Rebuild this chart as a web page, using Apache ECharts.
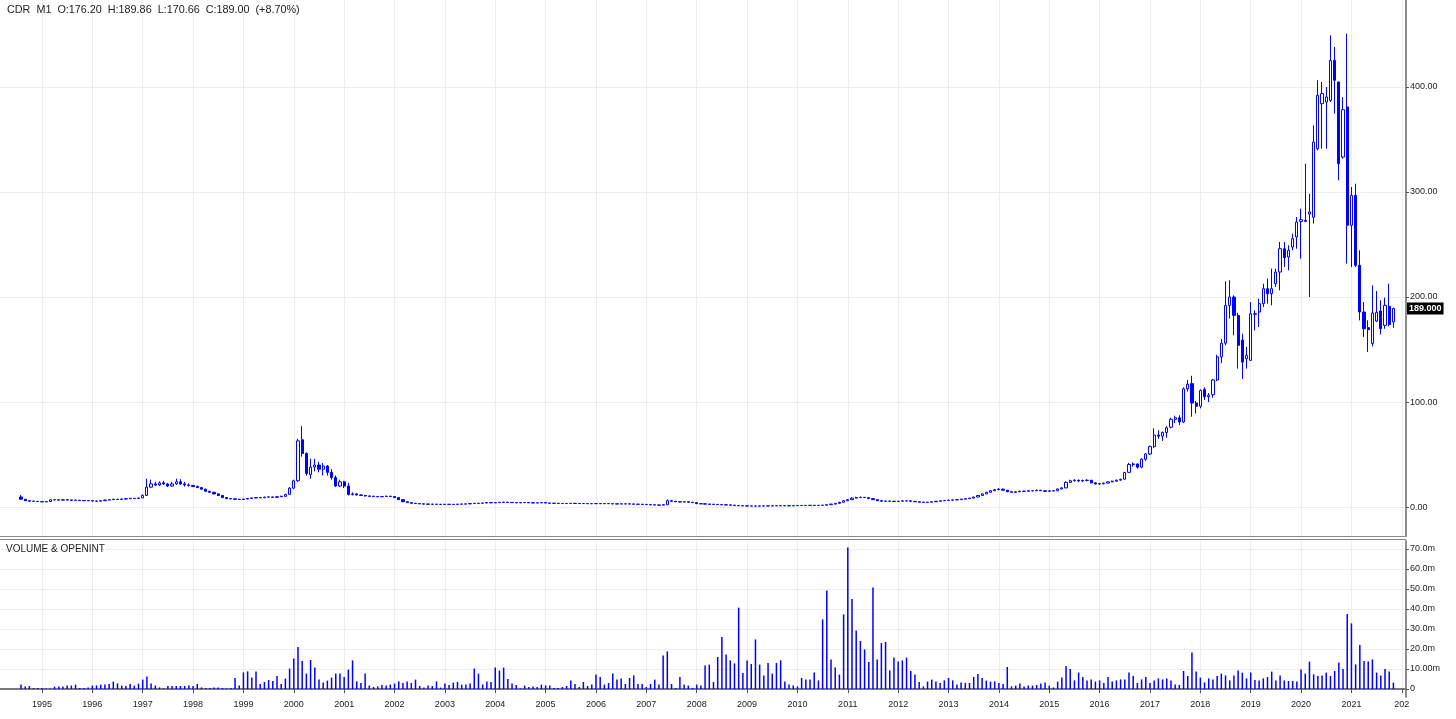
<!DOCTYPE html>
<html><head><meta charset="utf-8">
<script src="https://cdn.jsdelivr.net/npm/echarts@6/dist/echarts.min.js"></script>
<style>html,body{margin:0;padding:0;background:#fff}#c{width:1456px;height:719px}</style>
</head><body><div id="c"></div>
<script>
// Monthly bars, Aug 1994 .. Nov 2021 (one line per year)
const opens = [
 9.6, 7.4, 6.0, 5.6, 5.4,
 5.2, 4.9, 5.2, 6.8, 6.9, 6.6, 6.9, 6.7, 6.4, 6.5, 6.2, 6.0,
 6.1, 5.7, 5.6, 6.0, 6.6, 7.0, 7.4, 7.2, 7.6, 7.9, 8.3, 8.1,
 8.7, 11.0, 19.0, 22.0, 21.0, 23.0, 22.0, 20.0, 22.0, 24.0, 22.0, 21.0,
 20.5, 19.5, 18.5, 17.0, 15.0, 14.0, 12.5, 11.0, 9.0, 8.0, 7.8, 7.4,
 7.2, 7.6, 8.2, 8.6, 9.0, 8.8, 9.4, 9.6, 9.2, 9.8, 10.2, 12.0,
 18, 25, 64, 51, 31, 38, 40, 36, 39, 33, 28, 20,
 24, 20, 12, 12.5, 11.5, 11.0, 10.5, 10.2, 10.0, 9.8, 10.0, 10.3,
 10.0, 9.0, 7.0, 5.0, 4.2, 3.6, 3.3, 3.0, 2.8, 2.7, 2.6, 2.6,
 2.5, 2.6, 2.5, 2.5, 2.7, 2.8, 3.0, 3.3, 3.5, 3.6, 3.8, 4.2,
 4.0, 4.2, 4.5, 4.6, 4.4, 4.2, 4.0, 4.2, 4.3, 4.0, 3.9, 4.0,
 4.2, 3.8, 3.6, 3.5, 3.4, 3.3, 3.4, 3.5, 3.4, 3.3, 3.3, 3.2,
 3.2, 3.3, 3.2, 3.3, 3.2, 3.0, 2.9, 3.0, 3.0, 2.9, 2.7, 2.6,
 2.5, 2.3, 2.1, 1.9, 1.8, 2.2, 6.0, 5.5, 5.0, 4.8, 5.0, 4.5,
 4.2, 3.2, 3.0, 2.8, 2.6, 2.5, 2.3, 2.1, 2.0, 1.8, 1.4, 1.2,
 1.1, 1.0, 0.9, 0.9, 1.0, 1.1, 1.1, 1.2, 1.2, 1.3, 1.2, 1.2,
 1.3, 1.4, 1.5, 1.5, 1.6, 1.5, 1.6, 1.7, 2.2, 2.8, 3.5, 4.5,
 6.0, 7.0, 8.5, 9.0, 9.2, 9.0, 8.0, 7.0, 6.0, 5.5, 5.6, 5.5,
 5.3, 5.5, 5.8, 5.9, 5.4, 5.0, 4.6, 4.4, 4.6, 5.0, 5.5, 6.0,
 6.3, 6.5, 6.8, 7.0, 7.5, 8.0, 8.5, 9.5, 11.0, 12.5, 14.0, 15.5,
 16.5, 17.0, 16.0, 14.5, 14.0, 14.5, 15.0, 15.0, 15.5, 15.5, 16.0, 15.5,
 15.0, 15.3, 15.5, 17.2, 18.2, 23.5, 25.0, 25.5, 24.8, 25.3, 25.5, 23.0,
 22.0, 22.2, 22.8, 24.0, 24.6, 25.6, 26.5, 33.0, 40.5, 41.0, 38.0, 45.5,
 50.5, 57.5, 68.5, 67.5, 71.0, 76.0, 83.5, 85.0, 81.0, 112.5, 117.5, 99.0,
 96.0, 112.0, 105.0, 107.0, 121.0, 143.0, 156.0, 192.0, 200.0, 182.5, 159.0, 141.3,
 139.7, 184.0, 185.7, 193.7, 207.9, 203.2, 212.7, 223.8, 246.0, 238.1, 247.6, 257.2,
 272.0, 273.0, 279.0, 276.0, 341.3, 384.1, 385.7, 387.3, 425.4, 404.8, 333.3, 381.0,
 268.3, 296.8, 230.2, 185.7, 170.8, 155.6, 177.1, 186.7, 173.0, 191.1, 176.2
];
const highs = [
 11.4, 7.6, 6.2, 5.8, 5.6,
 5.4, 5.5, 7.4, 7.6, 7.2, 7.3, 7.2, 6.9, 6.9, 6.7, 6.4, 6.5,
 6.2, 6.0, 6.2, 6.9, 7.3, 7.8, 7.6, 7.9, 8.2, 8.7, 8.6, 9.0,
 12.0, 27.0, 26.0, 24.0, 24.5, 25.0, 23.0, 24.0, 27.0, 26.5, 24.0, 22.5,
 21.0, 20.5, 19.0, 17.5, 15.5, 14.5, 13.0, 11.5, 9.5, 8.5, 8.2, 7.8,
 7.9, 8.5, 9.0, 9.4, 9.3, 9.8, 10.0, 9.8, 10.2, 10.8, 12.5, 19.0,
 26, 65, 77, 52, 46, 46, 43, 42, 40, 36, 30, 26,
 25, 23, 14, 13, 12, 11.5, 11, 10.8, 10.5, 10.6, 10.8, 10.6,
 10.2, 9.2, 7.2, 5.2, 4.4, 3.8, 3.5, 3.2, 3.0, 2.9, 2.8, 2.8,
 2.8, 2.8, 2.7, 2.9, 3.0, 3.2, 3.5, 3.7, 3.8, 4.0, 4.4, 4.3,
 4.4, 4.7, 4.8, 4.7, 4.5, 4.3, 4.4, 4.5, 4.4, 4.1, 4.2, 4.4,
 4.3, 3.9, 3.7, 3.6, 3.5, 3.5, 3.6, 3.6, 3.5, 3.4, 3.4, 3.3,
 3.5, 3.4, 3.5, 3.4, 3.3, 3.1, 3.2, 3.2, 3.1, 3.0, 2.8, 2.7,
 2.6, 2.4, 2.2, 2.0, 2.4, 7.2, 6.3, 5.7, 5.2, 5.4, 5.1, 4.6,
 4.3, 3.4, 3.2, 3.0, 2.8, 2.6, 2.4, 2.3, 2.1, 1.9, 1.5, 1.3,
 1.2, 1.1, 1.0, 1.1, 1.2, 1.2, 1.3, 1.3, 1.4, 1.4, 1.3, 1.4,
 1.5, 1.6, 1.7, 1.7, 1.7, 1.7, 1.8, 2.4, 3.0, 3.8, 4.9, 6.5,
 7.5, 9.5, 9.8, 10.0, 9.6, 9.2, 8.2, 7.2, 6.3, 6.0, 5.9, 5.7,
 5.8, 6.1, 6.2, 6.0, 5.5, 5.1, 4.8, 4.8, 5.2, 5.7, 6.2, 6.5,
 6.8, 7.0, 7.3, 7.8, 8.3, 8.8, 9.8, 11.4, 12.9, 14.5, 16.0, 17.2,
 18.0, 17.5, 16.2, 14.8, 15.0, 15.5, 15.5, 16.0, 16.0, 16.5, 16.2, 15.8,
 16.0, 16.0, 17.8, 19.0, 24.5, 26.0, 26.5, 26.0, 26.0, 26.5, 25.8, 23.5,
 23.0, 23.2, 24.5, 25.2, 26.0, 27.0, 33.5, 42.0, 42.5, 41.5, 46.5, 51.5,
 58.5, 75.0, 73.0, 72.0, 77.0, 85.0, 87.0, 87.5, 114.0, 121.0, 125.0, 101.0,
 112.0, 114.0, 108.5, 122.0, 145.0, 160.0, 215.0, 216.0, 201.6, 185.0, 165.0, 152.4,
 195.2, 187.3, 198.4, 212.7, 217.5, 227.0, 227.0, 252.4, 252.4, 249.2, 260.3, 276.2,
 284.1, 327.0, 298.4, 363.5, 406.4, 404.8, 400.0, 449.2, 438.1, 404.8, 390.5, 450.8,
 304.8, 307.9, 244.5, 195.2, 177.8, 211.1, 205.7, 196.8, 199.4, 212.7, 189.86
];
const lows = [
 7.2, 5.8, 5.4, 5.2, 5.0,
 4.7, 4.8, 5.1, 6.4, 6.3, 6.4, 6.4, 6.1, 6.1, 5.9, 5.8, 5.8,
 5.5, 5.3, 5.4, 5.9, 6.4, 6.8, 7.0, 7.0, 7.4, 7.7, 7.8, 7.9,
 8.5, 10.5, 18.0, 20.0, 20.0, 21.0, 19.0, 19.5, 21.0, 21.0, 19.5, 19.5,
 19.0, 18.0, 16.5, 14.5, 13.5, 12.0, 10.5, 8.5, 7.5, 7.3, 7.0, 6.9,
 7.0, 7.4, 8.0, 8.4, 8.5, 8.6, 9.1, 9.0, 9.0, 9.5, 9.8, 11.5,
 17, 24, 48, 30, 27, 34, 33, 30, 30, 26, 19, 19,
 18, 11, 11, 11, 10.5, 10, 9.8, 9.5, 9.4, 9.5, 9.8, 9.6,
 8.8, 6.8, 4.8, 4.0, 3.4, 3.1, 2.9, 2.7, 2.5, 2.4, 2.4, 2.3,
 2.4, 2.3, 2.3, 2.4, 2.6, 2.7, 2.9, 3.2, 3.3, 3.5, 3.7, 3.8,
 3.9, 4.1, 4.3, 4.3, 4.1, 3.9, 3.9, 4.1, 3.9, 3.8, 3.8, 3.9,
 3.7, 3.5, 3.4, 3.3, 3.2, 3.2, 3.3, 3.3, 3.2, 3.1, 3.1, 3.0,
 3.1, 3.1, 3.1, 3.1, 2.9, 2.8, 2.8, 2.9, 2.8, 2.6, 2.5, 2.4,
 2.2, 2.0, 1.8, 1.7, 1.7, 2.1, 5.2, 4.8, 4.5, 4.6, 4.3, 4.0,
 3.1, 2.9, 2.7, 2.5, 2.4, 2.2, 2.0, 1.9, 1.6, 1.3, 1.1, 1.0,
 0.9, 0.8, 0.8, 0.8, 0.9, 1.0, 1.0, 1.1, 1.1, 1.1, 1.1, 1.1,
 1.2, 1.3, 1.4, 1.4, 1.4, 1.4, 1.5, 1.6, 2.1, 2.6, 3.3, 4.3,
 5.8, 6.8, 8.2, 8.6, 8.6, 7.8, 6.8, 5.8, 5.2, 5.2, 5.2, 5.0,
 5.1, 5.3, 5.6, 5.3, 4.9, 4.5, 4.3, 4.3, 4.5, 4.9, 5.4, 5.8,
 6.2, 6.3, 6.6, 6.9, 7.3, 7.9, 8.4, 9.3, 10.8, 12.2, 13.8, 15.2,
 16.2, 15.6, 14.2, 13.6, 13.8, 14.3, 14.6, 14.8, 15.0, 15.2, 15.2, 14.6,
 14.4, 14.8, 15.2, 16.8, 18.0, 23.0, 24.3, 23.8, 24.0, 24.5, 22.5, 21.5,
 21.0, 21.5, 22.5, 23.5, 24.0, 25.0, 26.2, 32.5, 38.5, 36.5, 37.0, 44.0,
 49.5, 56.0, 65.0, 63.0, 66.0, 75.0, 80.0, 78.0, 80.0, 110.0, 86.0, 89.0,
 94.0, 102.0, 100.0, 104.0, 120.0, 137.0, 154.0, 179.4, 163.5, 131.8, 122.0, 131.8,
 139.0, 168.3, 171.4, 190.5, 193.7, 192.1, 209.5, 206.3, 228.6, 225.4, 244.5, 246.0,
 236.5, 271.4, 200.0, 269.9, 339.7, 341.3, 341.3, 385.7, 374.6, 311.1, 331.8, 231.8,
 228.6, 228.6, 177.8, 161.9, 147.6, 153.0, 176.2, 164.4, 169.8, 172.1, 170.66
];
const closes = [
 7.4, 6.0, 5.6, 5.4, 5.2,
 4.9, 5.2, 6.8, 6.9, 6.6, 6.9, 6.7, 6.4, 6.5, 6.2, 6.0, 6.1,
 5.7, 5.6, 6.0, 6.6, 7.0, 7.4, 7.2, 7.6, 7.9, 8.3, 8.1, 8.6,
 11.0, 19.0, 22.0, 21.0, 23.0, 22.0, 20.0, 22.0, 24.0, 22.0, 21.0, 20.5,
 19.5, 18.5, 17.0, 15.0, 14.0, 12.5, 11.0, 9.0, 8.0, 7.8, 7.4, 7.2,
 7.6, 8.2, 8.6, 9.0, 8.8, 9.4, 9.6, 9.2, 9.8, 10.2, 12.0, 18.0,
 25, 63, 51, 32, 38, 40, 36, 39, 33, 28, 20, 24,
 20, 12, 12.5, 11.5, 11.0, 10.5, 10.2, 10.0, 9.8, 10.0, 10.3, 10.0,
 9.0, 7.0, 5.0, 4.2, 3.6, 3.3, 3.0, 2.8, 2.7, 2.6, 2.6, 2.5,
 2.6, 2.5, 2.5, 2.7, 2.8, 3.0, 3.3, 3.5, 3.6, 3.8, 4.2, 4.0,
 4.2, 4.5, 4.6, 4.4, 4.2, 4.0, 4.2, 4.3, 4.0, 3.9, 4.0, 4.2,
 3.8, 3.6, 3.5, 3.4, 3.3, 3.4, 3.5, 3.4, 3.3, 3.3, 3.2, 3.2,
 3.3, 3.2, 3.3, 3.2, 3.0, 2.9, 3.0, 3.0, 2.9, 2.7, 2.6, 2.5,
 2.3, 2.1, 1.9, 1.8, 2.2, 6.0, 5.5, 5.0, 4.8, 5.0, 4.5, 4.2,
 3.2, 3.0, 2.8, 2.6, 2.5, 2.3, 2.1, 2.0, 1.8, 1.4, 1.2, 1.1,
 1.0, 0.9, 0.9, 1.0, 1.1, 1.1, 1.2, 1.2, 1.3, 1.2, 1.2, 1.3,
 1.4, 1.5, 1.5, 1.6, 1.5, 1.6, 1.7, 2.2, 2.8, 3.5, 4.5, 6.0,
 7.0, 8.5, 9.0, 9.2, 9.0, 8.0, 7.0, 6.0, 5.5, 5.6, 5.5, 5.3,
 5.5, 5.8, 5.9, 5.4, 5.0, 4.6, 4.4, 4.6, 5.0, 5.5, 6.0, 6.3,
 6.5, 6.8, 7.0, 7.5, 8.0, 8.5, 9.5, 11.0, 12.5, 14.0, 15.5, 16.5,
 17.0, 16.0, 14.5, 14.0, 14.5, 15.0, 15.0, 15.5, 15.5, 16.0, 15.5, 15.0,
 15.3, 15.5, 17.2, 18.2, 23.5, 25.0, 25.5, 24.8, 25.3, 25.5, 23.0, 22.0,
 22.2, 22.8, 24.0, 24.6, 25.6, 26.3, 32.8, 40.5, 41.0, 38.0, 45.5, 50.5,
 57.5, 68.5, 67.5, 71.0, 75.5, 83.5, 85.0, 81.0, 112.5, 117.0, 99.0, 96.0,
 111.0, 105.0, 106.5, 121.0, 143.0, 156.0, 192.0, 200.0, 182.5, 154.0, 138.0, 144.4,
 184.1, 183.5, 193.7, 207.9, 203.2, 207.9, 223.8, 246.0, 237.5, 244.5, 255.6, 271.4,
 273.7, 272.0, 281.0, 347.6, 392.1, 393.7, 390.5, 425.4, 406.4, 327.0, 378.4, 268.3,
 296.8, 230.2, 185.7, 169.8, 168.9, 184.8, 185.4, 169.8, 192.1, 173.87, 189.0
];
// Volume in millions
const volumes = [
 2.3, 1.2, 1.5, 0.5, 0.5,
 0.5, 0.2, 0.2, 1.2, 1.2, 1.2, 1.7, 1.7, 2.2, 0.5, 0.5, 0.7,
 1.7, 1.8, 2.2, 2.3, 2.5, 3.7, 2.8, 1.7, 1.5, 2.5, 1.7, 2.7,
 4.7, 6.3, 2.8, 1.7, 0.8, 0.3, 1.5, 1.5, 1.5, 1.5, 1.5, 1.8,
 1.5, 2.5, 0.8, 0.5, 0.5, 0.7, 0.7, 0.5, 0.3, 0.5, 5.5, 1.7,
 8.3, 8.8, 5.7, 8.8, 2.5, 3.5, 4.5, 4.0, 6.5, 2.5, 5.2, 10.2,
 15.2, 21, 14, 7.7, 14.5, 10.7, 4.7, 3.2, 4.2, 5.7, 7.7, 7.7,
 6.0, 9.7, 14.3, 3.8, 3.0, 7.7, 1.7, 1.0, 1.3, 2.0, 1.7, 2.2,
 2.7, 3.8, 3.0, 3.8, 3.0, 4.7, 1.5, 0.7, 1.7, 1.5, 3.8, 0.7,
 2.7, 2.0, 3.2, 3.5, 2.2, 2.2, 2.7, 10.2, 7.7, 2.3, 3.8, 3.5,
 10.7, 9.2, 10.7, 5.0, 2.7, 2.0, 0.3, 1.7, 1.0, 1.2, 1.0, 2.2,
 1.8, 1.8, 0.5, 0.5, 1.0, 1.5, 4.2, 2.5, 1.0, 3.5, 1.5, 2.2,
 7.2, 6.0, 2.2, 3.0, 7.7, 4.7, 5.2, 2.5, 5.5, 6.8, 2.5, 2.5,
 1.0, 2.5, 4.7, 2.2, 16.8, 18.8, 2.5, 0.5, 6.0, 2.2, 1.7, 0.5,
 2.2, 1.7, 11.8, 12.2, 3.5, 16, 26, 17.2, 14.3, 12.8, 40.7, 8.0,
 14.3, 12.5, 24.8, 12.2, 6.8, 13, 7.7, 13, 14.3, 3.8, 2.2, 1.7,
 1.3, 5.5, 4.7, 4.7, 8.3, 4.3, 34.8, 49.2, 14.8, 10.7, 7.2, 37.3,
 70.7, 45, 29.3, 24, 19.8, 13.5, 50.8, 14.8, 23, 23.5, 9.3, 15.7,
 13.8, 14.3, 15.7, 9, 7.2, 3.5, 1.3, 3.7, 4.7, 3.8, 3.0, 4.3,
 5.5, 4.3, 2.2, 3.3, 3.0, 3.0, 6.0, 7.5, 5.5, 4.2, 3.7, 3.8,
 3.0, 2.5, 11, 1.3, 1.7, 2.7, 1.3, 1.7, 1.7, 2.0, 2.7, 3.3,
 1.7, 0.8, 3.7, 5.7, 11.5, 10, 4.3, 8.2, 6, 4.3, 4.8, 3.7,
 4.3, 3, 6, 3.7, 4.3, 4.8, 4.8, 8.2, 6.5, 3, 4.8, 6,
 3, 4.3, 5.3, 4.8, 5.3, 4.3, 2.3, 2, 9, 6.5, 18.2, 8.7,
 5.7, 3.3, 5.3, 4.8, 6.5, 7.7, 6.8, 4.3, 6.8, 9.3, 8.2, 5.3,
 8.2, 4.5, 4.3, 5.3, 6, 8.7, 4.3, 6.8, 4.3, 4, 4, 3.7,
 9.7, 7.7, 13.7, 7.3, 6.5, 6.8, 8.2, 6.5, 9, 13.3, 10, 37.5,
 32.8, 12.3, 22, 14, 13.7, 14.8, 8.2, 6.8, 10, 8.7, 3.2
];
const priceTicks = [0, 100, 200, 300, 400];
const volumeTicks = [0, 10, 20, 30, 40, 50, 60, 70];
const firstYear = 1994, firstMonth = 8;   // first bar: Aug 1994
const padBefore = 5, padAfter = 3;         // empty month slots on each side

const n = closes.length;
const cats = [];
for (let k = 0; k < padBefore + n + padAfter; k++) {
  const m0 = (firstMonth - 1) - padBefore + k;
  const y = firstYear + Math.floor(m0 / 12);
  const m = ((m0 % 12) + 12) % 12 + 1;
  cats.push(y + '-' + String(m).padStart(2, '0'));
}
const candleData = cats.map((c, k) => {
  const i = k - padBefore;
  if (i < 0 || i >= n) return '-';
  return [opens[i], closes[i], lows[i], highs[i]];
});
const volData = cats.map((c, k) => {
  const i = k - padBefore;
  return (i < 0 || i >= n) ? '-' : volumes[i];
});
const isJan = (idx, val) => String(val).slice(5) === '01';
const last = n - 1;
const chg = (closes[last] / closes[last - 1] - 1) * 100;
const header = 'CDR  M1  O:' + opens[last].toFixed(2) + '  H:' + highs[last].toFixed(2) +
  '  L:' + lows[last].toFixed(2) + '  C:' + closes[last].toFixed(2) +
  '  (' + (chg >= 0 ? '+' : '') + chg.toFixed(2) + '%)';

const FONT = 'Liberation Sans, Arial, sans-serif';
const gridColor = '#ededed';
const chart = echarts.init(document.getElementById('c'), null, {renderer: 'canvas'});
chart.setOption({
  animation: false,
  backgroundColor: '#ffffff',
  textStyle: {fontFamily: FONT},
  title: [
    {text: header, left: 7, top: 5, padding: 0,
     textStyle: {fontSize: 10.8, fontWeight: 'normal', color: '#222', fontFamily: FONT}},
    {text: 'VOLUME & OPENINT', left: 6, top: 544, padding: 0,
     textStyle: {fontSize: 10, fontWeight: 'normal', color: '#222', fontFamily: FONT}}
  ],
  grid: [
    {left: 0, right: 50, top: 0, height: 536},
    {left: 0, right: 50, top: 541, height: 156}
  ],
  xAxis: [
    {type: 'category', gridIndex: 0, data: cats, boundaryGap: false,
     axisLine: {show: false}, axisTick: {show: false}, axisLabel: {show: false},
     splitLine: {show: true, interval: isJan, lineStyle: {color: gridColor, width: 1}}},
    {type: 'category', gridIndex: 1, data: cats, boundaryGap: false,
     axisLine: {show: true, lineStyle: {color: '#7a7a7a', width: 2}},
     axisTick: {show: true, interval: isJan, length: 4, lineStyle: {color: '#555'}},
     axisLabel: {show: true, interval: isJan, fontSize: 9, color: '#222', margin: 3,
       formatter: v => { const y = v.slice(0, 4); return y === '2022' ? '202' : y; }},
     splitLine: {show: true, interval: isJan, lineStyle: {color: gridColor, width: 1}}}
  ],
  yAxis: [
    {type: 'value', gridIndex: 0, position: 'right', min: -27.6, max: 482.86,
     axisLine: {show: true, lineStyle: {color: '#8c8c8c', width: 2}},
     axisTick: {show: true, customValues: priceTicks, length: 3, lineStyle: {color: '#555'}},
     axisLabel: {show: true, customValues: priceTicks, fontSize: 9, color: '#222', margin: 4,
       formatter: v => Number(v).toFixed(2)},
     splitLine: {show: true, lineStyle: {color: gridColor, width: 1}}},
    {type: 'value', gridIndex: 1, position: 'right', min: -4, max: 74,
     axisLine: {show: true, lineStyle: {color: '#8c8c8c', width: 2}},
     axisTick: {show: true, customValues: volumeTicks, length: 3, lineStyle: {color: '#555'}},
     axisLabel: {show: true, customValues: volumeTicks, fontSize: 9, color: '#222', margin: 4,
       formatter: v => v === 0 ? '0' : (v === 10 ? '10.00m' : Number(v).toFixed(1) + 'm')},
     splitLine: {show: true, lineStyle: {color: gridColor, width: 1}}}
  ],
  graphic: [
    {type: 'line', shape: {x1: 0, y1: 536.5, x2: 1406, y2: 536.5}, style: {stroke: '#8a8a8a', lineWidth: 1}},
    {type: 'line', shape: {x1: 0, y1: 539.5, x2: 1406, y2: 539.5}, style: {stroke: '#8a8a8a', lineWidth: 1}}
  ],
  series: [
    {type: 'candlestick', xAxisIndex: 0, yAxisIndex: 0, data: candleData, barWidth: 2.7,
     itemStyle: {color: '#ffffff', color0: '#0000ff', borderColor: '#0000ff', borderColor0: '#0000ff',
       borderColorDoji: '#0000ff', borderWidth: 1},
     markLine: {silent: true, symbol: 'none', animation: false,
       lineStyle: {color: 'rgba(0,0,0,0)', width: 0, opacity: 1},
       label: {show: true, position: 'end', distance: 1, formatter: closes[last].toFixed(3), opacity: 1,
         backgroundColor: '#000', color: '#fff', fontSize: 9, fontWeight: 'bold', padding: [2, 2, 1, 2], fontFamily: FONT},
       data: [{yAxis: closes[last]}]}},
    {type: 'bar', xAxisIndex: 1, yAxisIndex: 1, data: volData, barWidth: 1.5,
     itemStyle: {color: '#0000ff'}}
  ]
});
</script>
</body></html>
